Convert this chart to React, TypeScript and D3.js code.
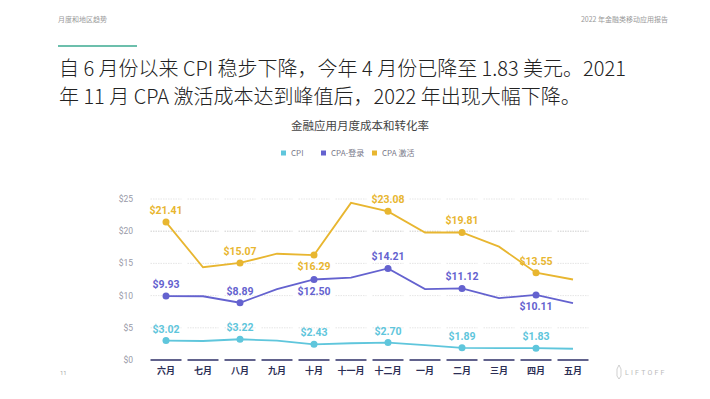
import React from 'react';
import * as d3 from 'd3';

const MONTHS = ['六月', '七月', '八月', '九月', '十月', '十一月', '十二月', '一月', '二月', '三月', '四月', '五月'];
const CPI = [3.02, 2.95, 3.22, 3.0, 2.43, 2.6, 2.70, 2.3, 1.89, 1.85, 1.83, 1.75];
const CPA_LOGIN = [9.93, 9.9, 8.89, 11.0, 12.50, 12.8, 14.21, 11.0, 11.12, 9.6, 10.11, 8.85];
const CPA_ACTIVATE = [21.41, 14.4, 15.07, 16.5, 16.29, 24.4, 23.08, 19.8, 19.81, 17.6, 13.55, 12.5];
const Y_TICKS = [0, 5, 10, 15, 20, 25];
// which points get a dot + label, and where the label sits
const LABELLED = [0, 2, 4, 6, 8, 10];
const CPI_POS = ['up', 'up', 'up', 'up', 'up', 'up'];
const LOGIN_POS = ['up', 'up', 'down', 'up', 'up', 'down'];
const ACT_POS = ['up', 'up', 'down', 'up', 'up', 'up'];

const W = 710;
const H = 399;
const CJK = "'Noto Sans CJK SC', sans-serif";
const NUM = "Roboto, 'Noto Sans CJK SC', sans-serif";

const x = d3.scalePoint<string>().domain(MONTHS).range([166, 573]);
const y = d3.scaleLinear().domain([0, 25]).range([360, 199]);
const SEG = 31;

const series = [
  { name: 'CPI', values: CPI, color: '#5fc6dc', pos: CPI_POS },
  { name: 'CPA-登录', values: CPA_LOGIN, color: '#6462cf', pos: LOGIN_POS },
  { name: 'CPA 激活', values: CPA_ACTIVATE, color: '#e8b630', pos: ACT_POS },
];

const line = d3.line<number>()
  .x((_, i) => x(MONTHS[i]) as number)
  .y(d => y(d));

export default function App() {
  return (
    <svg width={W} height={H} style={{ position: 'absolute', left: 0, top: 0, background: '#fff' }}>
      {/* header */}
      <text x={58} y={22} fontSize={7} fill="#999" fontFamily={CJK}>月度和地区趋势</text>
      <text x={668} y={22} fontSize={7} fill="#999" fontFamily={CJK} textAnchor="end">2022 年金融类移动应用报告</text>
      <rect x={58} y={45} width={79} height={2} fill="#6cbfac" />
      <text x={59} y={76} fontSize={20} fill="#222" fontFamily={CJK} fontWeight={300}>自 6 月份以来 CPI 稳步下降，今年 4 月份已降至 1.83 美元。2021</text>
      <text x={59} y={104} fontSize={20} fill="#222" fontFamily={CJK} fontWeight={300}>年 11 月 CPA 激活成本达到峰值后，2022 年出现大幅下降。</text>

      {/* chart title + legend */}
      <text x={360} y={130} fontSize={11.5} fill="#444" fontFamily={CJK} textAnchor="middle">金融应用月度成本和转化率</text>
      {[{ sx: 281, tx: 291 }, { sx: 321, tx: 331 }, { sx: 372, tx: 382 }].map((p, i) => (
        <g key={i}>
          <rect x={p.sx} y={150.5} width={5} height={5} fill={series[i].color} />
          <text x={p.tx} y={156} fontSize={8} fill="#778" fontFamily={CJK}>{series[i].name}</text>
        </g>
      ))}

      {/* grid */}
      {Y_TICKS.map(t => (
        <g key={t}>
          <text x={133} y={y(t) + 3} fontSize={8.5} fill="#9a9aa8" fontFamily={NUM} textAnchor="end">${t}</text>
          {t > 0 && MONTHS.map(m => (
            <line key={m} x1={(x(m) as number) - SEG / 2} x2={(x(m) as number) + SEG / 2} y1={y(t)} y2={y(t)}
              stroke={t === 20 ? '#c4c4c4' : '#dedede'} strokeWidth={0.8} strokeDasharray="1.5,1" />
          ))}
        </g>
      ))}
      {MONTHS.map(m => (
        <g key={m}>
          <line x1={(x(m) as number) - SEG / 2} x2={(x(m) as number) + SEG / 2} y1={360} y2={360}
            stroke="#2c2e66" strokeWidth={1.5} />
          <text x={x(m)} y={374} fontSize={9} fill="#2c2e55" fontFamily={CJK} textAnchor="middle" fontWeight={600}>{m}</text>
        </g>
      ))}

      {/* lines */}
      {series.map(s => (
        <g key={s.name}>
          <path d={line(s.values) || ''} fill="none" stroke={s.color} strokeWidth={1.8} />
          {LABELLED.map((idx, k) => {
            const cx = x(MONTHS[idx]) as number;
            const cy = y(s.values[idx]);
            const ly = s.pos[k] === 'up' ? cy - 8 : cy + 15;
            return (
              <g key={idx}>
                <circle cx={cx} cy={cy} r={3.5} fill={s.color} />
                <text x={cx} y={ly} fontSize={10.5} fontWeight={700} fill={s.color} fontFamily={NUM}
                  textAnchor="middle">${s.values[idx].toFixed(2)}</text>
              </g>
            );
          })}
        </g>
      ))}

      {/* footer */}
      <text x={60} y={375} fontSize={6} fill="#aaa" fontFamily={NUM}>11</text>
      <path d="M619,365 L621,369 L621,376 L619,379 L617,376 L617,369 Z" fill="none" stroke="#bbb" strokeWidth={0.7} />
      <text x={625} y={375} fontSize={7} fill="#bbb" fontFamily={NUM} letterSpacing={2.2}>LIFTOFF</text>
    </svg>
  );
}
